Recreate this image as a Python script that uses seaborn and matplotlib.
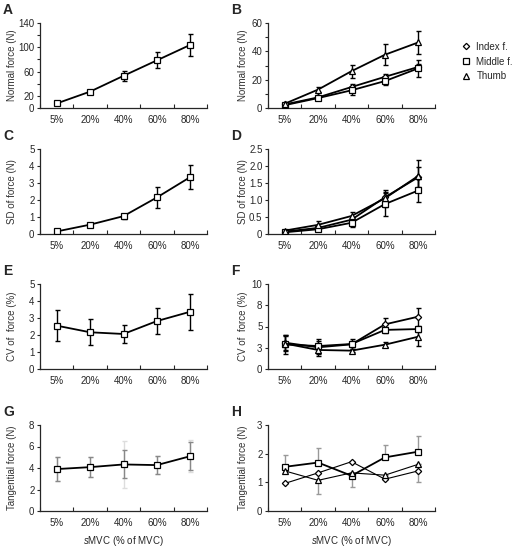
import numpy as np
import seaborn as sns
import matplotlib.pyplot as plt

sns.set_style("ticks")
plt.rcParams['font.family'] = ['Liberation Sans', 'DejaVu Sans']
plt.rcParams['mathtext.fontset'] = 'custom'
plt.rcParams['mathtext.it'] = 'Liberation Sans:italic'
plt.rcParams['mathtext.rm'] = 'Liberation Sans'

cats = ['5%', '20%', '40%', '60%', '80%']
fingers = ['Index f.', 'Middle f.', 'Thumb']
mk = {'Index f.': 'D', 'Middle f.': 's', 'Thumb': '^'}
ms = {'Index f.': 3.2, 'Middle f.': 4, 'Thumb': 4}

# A: total normal force
a_val = [7.5, 27, 53, 78.5, 104]
a_err = [1.5, 3, 8.5, 13, 18.5]
# B: normal force per finger
b_val = {'Index f.': [2.5, 7.5, 14.8, 22, 29],
         'Middle f.': [2, 7, 12.5, 19, 28],
         'Thumb': [3, 13, 26, 37.6, 46.3]}
b_err = {'Index f.': [0.5, 1, 2, 2, 2],
         'Middle f.': [0.5, 1, 3, 3, 6],
         'Thumb': [0.8, 2, 4.5, 7.3, 8]}
# C: SD of total force
c_val = [0.15, 0.55, 1.05, 2.15, 3.35]
c_err = [0.05, 0.1, 0.15, 0.6, 0.7]
# D: SD of force per finger
d_val = {'Index f.': [0.07, 0.18, 0.42, 1.08, 1.67],
         'Middle f.': [0.05, 0.14, 0.33, 0.88, 1.28],
         'Thumb': [0.1, 0.27, 0.53, 1.05, 1.71]}
d_err = {'Index f.': [0.02, 0.05, 0.08, 0.15, 0.3],
         'Middle f.': [0.02, 0.04, 0.11, 0.34, 0.33],
         'Thumb': [0.03, 0.11, 0.13, 0.25, 0.47]}
# E: CV of total force
e_val = [2.55, 2.16, 2.06, 2.82, 3.37]
e_err = [0.9, 0.77, 0.54, 0.75, 1.05]
# F: CV of force per finger
f_val = {'Index f.': [3.1, 2.55, 2.9, 5.25, 6.16],
         'Middle f.': [2.9, 2.7, 2.94, 4.6, 4.7],
         'Thumb': [3.0, 2.24, 2.16, 2.86, 3.8]}
f_err = {'Index f.': [0.9, 0.8, 0.6, 0.7, 1.05],
         'Middle f.': [1.1, 0.8, 0.4, 0.4, 0.3],
         'Thumb': [0.9, 0.7, 0.15, 0.3, 1.05]}
# G: tangential force, total
g_val = [3.9, 4.08, 4.33, 4.27, 5.1]
g_err = [1.1, 0.95, 1.3, 0.8, 1.3]
g_err_light = [1.1, 0.95, 2.2, 0.8, 1.5]
# H: tangential force per finger
h_val = {'Index f.': [0.96, 1.33, 1.72, 1.11, 1.40],
         'Middle f.': [1.54, 1.69, 1.23, 1.87, 2.07],
         'Thumb': [1.40, 1.07, 1.33, 1.25, 1.63]}
h_err_lo = {'Index f.': [0, 0, 0, 0, 0.38],
            'Middle f.': [0, 0, 0.41, 0, 0],
            'Thumb': [0, 0.47, 0, 0, 0]}
h_err_hi = {'Index f.': [0, 0, 0, 0, 0],
            'Middle f.': [0.41, 0.5, 0, 0.43, 0.54],
            'Thumb': [0, 0, 0, 0, 0]}

fig = plt.figure(figsize=(5.13, 5.46), dpi=100)
W, H = 513, 546
cols = [40, 268]
rows = [(23, 108), (149, 234), (284, 369), (425, 511)]
axes = {}
letters = 'ABCDEFGH'
for i, (top, bot) in enumerate(rows):
    for j, left in enumerate(cols):
        ax = fig.add_axes([left / W, 1 - bot / H, 167 / W, (bot - top) / H])
        axes[letters[2 * i + j]] = ax
        fig.text((left - 37) / W, 1 - (top - 13) / H, letters[2 * i + j],
                 fontsize=10, fontweight='bold', va='center', ha='left')


def single(ax, val, err, ecolor='k'):
    ax.errorbar(cats, val, yerr=err, fmt='none', ecolor=ecolor, elinewidth=1,
                capsize=1.8, capthick=1, zorder=2)
    sns.lineplot(x=cats, y=val, sort=False, color='k', lw=1.3, marker='s',
                 ms=4.2, mfc='white', mec='k', mew=0.9, ax=ax, zorder=3)


def multi(ax, vals, errs, ecolor='k', lws=None):
    for f in fingers:
        ax.errorbar(cats, vals[f], yerr=errs[f], fmt='none', ecolor=ecolor,
                    elinewidth=1, capsize=1.8, capthick=1, zorder=2)
    for f in fingers:
        lw = lws[f] if lws else 1.3
        sns.lineplot(x=cats, y=vals[f], sort=False, color='k', lw=lw,
                     marker=mk[f], ms=ms[f], mfc='white', mec='k', mew=0.9,
                     ax=ax, zorder=3)


single(axes['A'], a_val, a_err)
multi(axes['B'], b_val, b_err)
single(axes['C'], c_val, c_err)
multi(axes['D'], d_val, d_err)
single(axes['E'], e_val, e_err)
multi(axes['F'], f_val, f_err)
axes['G'].errorbar(cats, g_val, yerr=g_err_light, fmt='none', ecolor='#dddddd',
                   elinewidth=1, capsize=1.8, zorder=1)
single(axes['G'], g_val, g_err, ecolor='#888888')
multi(axes['H'], h_val, {f: [h_err_lo[f], h_err_hi[f]] for f in fingers},
      ecolor='#999999', lws={'Index f.': 0.8, 'Middle f.': 1.3, 'Thumb': 0.8})

ylims = {'A': (0, 140), 'B': (0, 60), 'C': (0, 5), 'D': (0, 2.5),
         'E': (0, 5), 'F': (0, 10), 'G': (0, 8), 'H': (0, 3)}
yticks = {'A': np.arange(0, 141, 20), 'B': np.arange(0, 61, 10),
          'C': np.arange(0, 6), 'D': np.arange(0, 2.51, 0.5),
          'E': np.arange(0, 6), 'F': np.arange(0, 10.1, 2.5),
          'G': np.arange(0, 9, 2), 'H': np.arange(0, 4)}
ylabels_t = {'A': ['0', '20', '', '60', '', '100', '', '140'],
             'B': ['0', '', '20', '', '40', '', '60'],
             'C': [str(v) for v in range(6)],
             'D': ['0', '0.5', '1.0', '1.5', '2.0', '2.5'],
             'E': [str(v) for v in range(6)],
             'F': ['0', '3', '5', '8', '10'],
             'G': ['0', '2', '4', '6', '8'],
             'H': ['0', '1', '2', '3']}
ynames = {'A': 'Normal force (N)', 'B': 'Normal force (N)',
          'C': 'SD of force (N)', 'D': 'SD of force (N)',
          'E': 'CV of  force (%)', 'F': 'CV of  force (%)',
          'G': 'Tangential force (N)', 'H': 'Tangential force (N)'}

for k, ax in axes.items():
    sns.despine(ax=ax)
    ax.set_xlim(-0.5, 4.5)
    ax.set_ylim(*ylims[k])
    ax.set_xticks(range(5))
    ax.set_xticklabels(cats, fontsize=7)
    ax.set_xticks(np.arange(-0.5, 5, 1), minor=True)
    ax.tick_params(axis='x', which='major', length=0, pad=5)
    ax.tick_params(axis='x', which='minor', length=3, direction='in', width=0.8)
    ax.set_yticks(yticks[k])
    ax.set_yticklabels(ylabels_t[k], fontsize=7)
    ax.tick_params(axis='y', length=2.5, width=0.8, pad=1.5)
    ax.set_ylabel(ynames[k], fontsize=7, color='#333333')
    left_col = k in 'ACEG'
    ax.yaxis.set_label_coords(-0.14 if left_col else -0.12, 0.5)
    ax.set_xlabel('')
    for s in ax.spines.values():
        s.set_linewidth(0.9)

for k in 'GH':
    axes[k].set_xlabel('$s$MVC (% of MVC)', fontsize=7, labelpad=4)

handles = [plt.Line2D([], [], ls='none', marker=mk[f], ms=ms[f], mfc='white',
                      mec='k', mew=0.9, color='k') for f in fingers]
fig.legend(handles, fingers, loc='upper left', bbox_to_anchor=(452 / W, 1 - 33 / H),
           frameon=False, fontsize=7, handlelength=1, handletextpad=0.6,
           labelspacing=0.5)

fig.savefig('out.png', dpi=100)
